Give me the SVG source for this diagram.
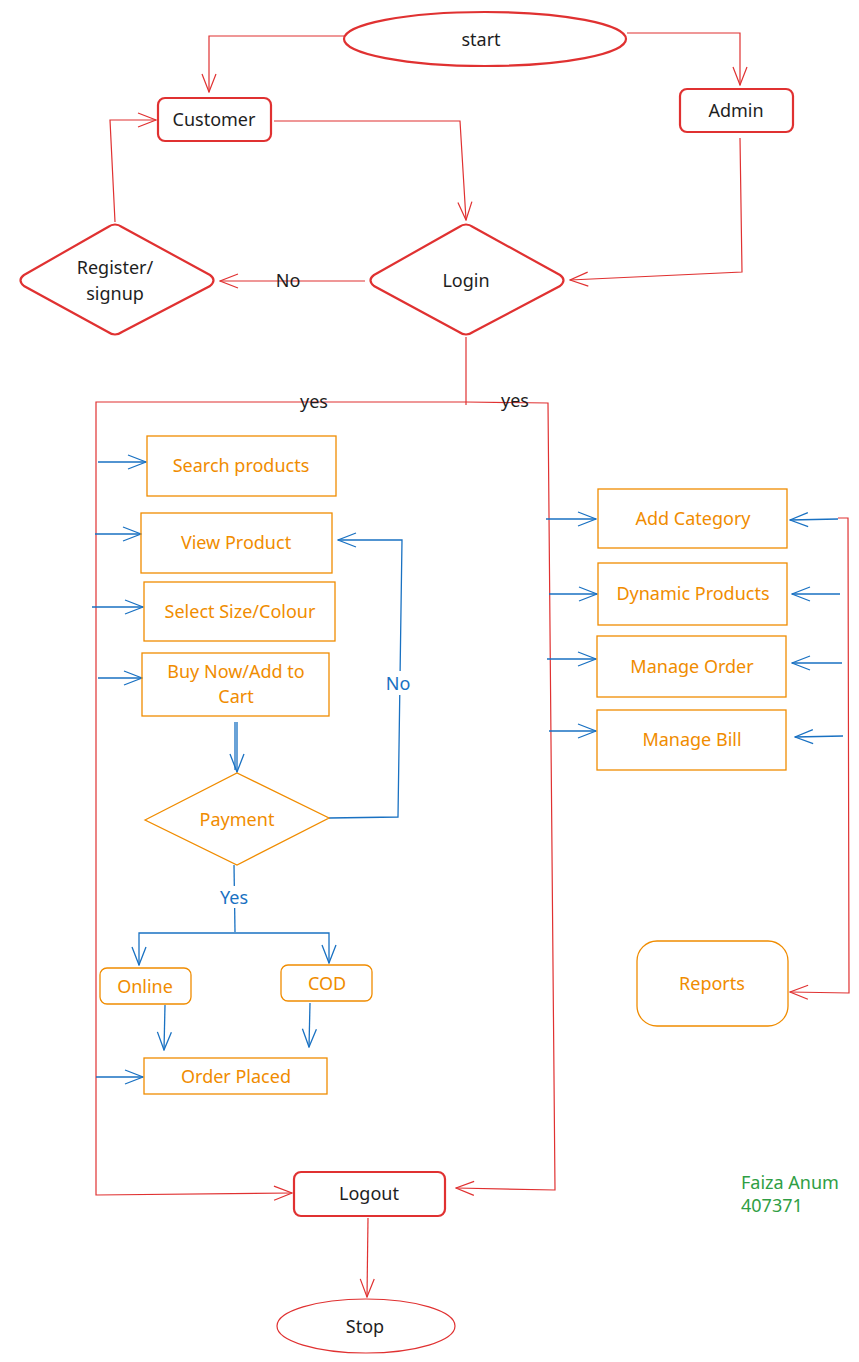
<svg xmlns="http://www.w3.org/2000/svg" width="859" height="1362" viewBox="0 0 859 1362">
<defs>
<style>
.r{fill:none;stroke:#e03131;stroke-width:2.2}
.rl{fill:none;stroke:#e03131;stroke-width:1.2}
.o{fill:none;stroke:#f08c00;stroke-width:1.3}
.b{fill:none;stroke:#1971c2;stroke-width:1.3}
text{font-family:"Noto Sans","Liberation Sans",sans-serif;font-size:18px;text-anchor:middle;dominant-baseline:central}
.tk{fill:#1e1e1e}
.to{fill:#f08c00}
.tb{fill:#1971c2}
.tg{fill:#2f9e44;text-anchor:start}
</style>
<marker id="ar" viewBox="0 0 20 20" refX="19" refY="10" markerWidth="20" markerHeight="20" markerUnits="userSpaceOnUse" orient="auto">
<polyline points="1,3 19,10 1,17" fill="none" stroke="#e03131" stroke-width="1.2"/>
</marker>
<marker id="ab" viewBox="0 0 20 20" refX="19" refY="10" markerWidth="20" markerHeight="20" markerUnits="userSpaceOnUse" orient="auto">
<polyline points="1,3 19,10 1,17" fill="none" stroke="#1971c2" stroke-width="1.3"/>
</marker>
</defs>
<rect width="859" height="1362" fill="#ffffff"/>
<g id="connectors">
<polyline class="rl" points="344,36 209,36 209,92" marker-end="url(#ar)"/>
<polyline class="rl" points="627,33 740,33 740,85" marker-end="url(#ar)"/>
<polyline class="rl" points="274,121 460,121 466,220" marker-end="url(#ar)"/>
<polyline class="rl" points="740,138 742,272 570,280" marker-end="url(#ar)"/>
<polyline class="rl" points="365,281 220,281" marker-end="url(#ar)"/>
<polyline class="rl" points="115,222 110,120 156,120" marker-end="url(#ar)"/>
<polyline class="rl" points="466,337 466,405"/>
<polyline class="rl" points="466,402 96,402 96,1195 292,1193" marker-end="url(#ar)"/>
<polyline class="rl" points="466,402 548,403 555,1190 456,1188" marker-end="url(#ar)"/>
<polyline class="rl" points="368,1218 367,1297" marker-end="url(#ar)"/>
<polyline class="rl" points="838,518 848,518 849,993 790,992" marker-end="url(#ar)"/>
<polyline class="b" points="98,462 146,462" marker-end="url(#ab)"/>
<polyline class="b" points="95,534 141,534" marker-end="url(#ab)"/>
<polyline class="b" points="92,607 143,607" marker-end="url(#ab)"/>
<polyline class="b" points="98,678 142,678" marker-end="url(#ab)"/>
<polyline class="b" points="96,1077 143,1077" marker-end="url(#ab)"/>
<polyline class="b" points="237,722 237,772" marker-end="url(#ab)"/>
<polyline class="b" points="235,722 235,770"/>
<polyline class="b" points="329,818 398,817 402,540 338,540" marker-end="url(#ab)"/>
<polyline class="b" points="234,865 235,932"/>
<polyline class="b" points="235,933 139,933 139,965" marker-end="url(#ab)"/>
<polyline class="b" points="235,933 329,933 329,963" marker-end="url(#ab)"/>
<polyline class="b" points="165,1005 164,1050" marker-end="url(#ab)"/>
<polyline class="b" points="310,1003 309,1047" marker-end="url(#ab)"/>
<rect x="384" y="671" width="28" height="24" fill="#fff"/>
<rect x="216" y="886" width="38" height="22" fill="#fff"/>
<polyline class="b" points="546,519 596,519" marker-end="url(#ab)"/>
<polyline class="b" points="549,594 597,594" marker-end="url(#ab)"/>
<polyline class="b" points="547,659 596,659" marker-end="url(#ab)"/>
<polyline class="b" points="549,731 596,731" marker-end="url(#ab)"/>
<polyline class="b" points="838,519 790,520" marker-end="url(#ab)"/>
<polyline class="b" points="840,594 792,594" marker-end="url(#ab)"/>
<polyline class="b" points="842,663 792,663" marker-end="url(#ab)"/>
<polyline class="b" points="843,736 795,737" marker-end="url(#ab)"/>
<text class="tk" x="288" y="280">No</text>
<text class="tk" x="314" y="401">yes</text>
<text class="tk" x="515" y="400">yes</text>
<text class="tb" x="398" y="683">No</text>
<text class="tb" x="234" y="897">Yes</text>
</g>
<g id="start"><ellipse class="r" cx="485" cy="39" rx="141" ry="27"/><text class="tk" x="481" y="39">start</text></g>
<g id="customer"><rect class="r" x="158" y="98" width="113" height="43" rx="7"/><text class="tk" x="214" y="119">Customer</text></g>
<g id="admin"><rect class="r" x="680" y="89" width="113" height="43" rx="7"/><text class="tk" x="736" y="110">Admin</text></g>
<g id="register"><path class="r" d="M24,275 L108,227 Q115,222 122,227 L210,275 Q217,280 210,286 L122,332 Q115,337 108,332 L24,286 Q17,280 24,275 Z"/><text class="tk" x="115" y="267">Register/</text><text class="tk" x="115" y="293">signup</text></g>
<g id="login"><path class="r" d="M374,275 L459,227 Q466,222 473,227 L560,275 Q567,280 560,286 L473,332 Q466,337 459,332 L374,286 Q367,280 374,275 Z"/><text class="tk" x="466" y="280">Login</text></g>
<g id="search"><rect class="o" x="147" y="436" width="189" height="60"/><text class="to" x="241" y="465">Search products</text></g>
<g id="view"><rect class="o" x="141" y="513" width="191" height="60"/><text class="to" x="236" y="542">View Product</text></g>
<g id="select"><rect class="o" x="144" y="582" width="191" height="59"/><text class="to" x="240" y="611">Select Size/Colour</text></g>
<g id="buy"><rect class="o" x="142" y="653" width="187" height="63"/><text class="to" x="236" y="671">Buy Now/Add to</text><text class="to" x="236" y="696">Cart</text></g>
<g id="payment"><polygon class="o" points="145,820 237,773 329,818 237,865"/><text class="to" x="237" y="819">Payment</text></g>
<g id="online"><rect class="o" x="100" y="968" width="91" height="36" rx="7"/><text class="to" x="145" y="986">Online</text></g>
<g id="cod"><rect class="o" x="281" y="965" width="91" height="36" rx="7"/><text class="to" x="327" y="983">COD</text></g>
<g id="order"><rect class="o" x="144" y="1058" width="183" height="36"/><text class="to" x="236" y="1076">Order Placed</text></g>
<g id="addcat"><rect class="o" x="598" y="489" width="189" height="59"/><text class="to" x="693" y="518">Add Category</text></g>
<g id="dynamic"><rect class="o" x="598" y="563" width="189" height="62"/><text class="to" x="693" y="593">Dynamic Products</text></g>
<g id="manorder"><rect class="o" x="597" y="636" width="189" height="61"/><text class="to" x="692" y="666">Manage Order</text></g>
<g id="manbill"><rect class="o" x="597" y="710" width="189" height="60"/><text class="to" x="692" y="739">Manage Bill</text></g>
<g id="reports"><rect class="o" x="637" y="941" width="151" height="85" rx="20"/><text class="to" x="712" y="983">Reports</text></g>
<g id="logout"><rect class="r" x="294" y="1172" width="151" height="44" rx="7"/><text class="tk" x="369" y="1193">Logout</text></g>
<g id="stop"><ellipse class="rl" cx="366" cy="1326" rx="89" ry="27"/><text class="tk" x="365" y="1326">Stop</text></g>
<g id="author"><text class="tg" x="741" y="1182">Faiza Anum</text><text class="tg" x="741" y="1205">407371</text></g>
</svg>
